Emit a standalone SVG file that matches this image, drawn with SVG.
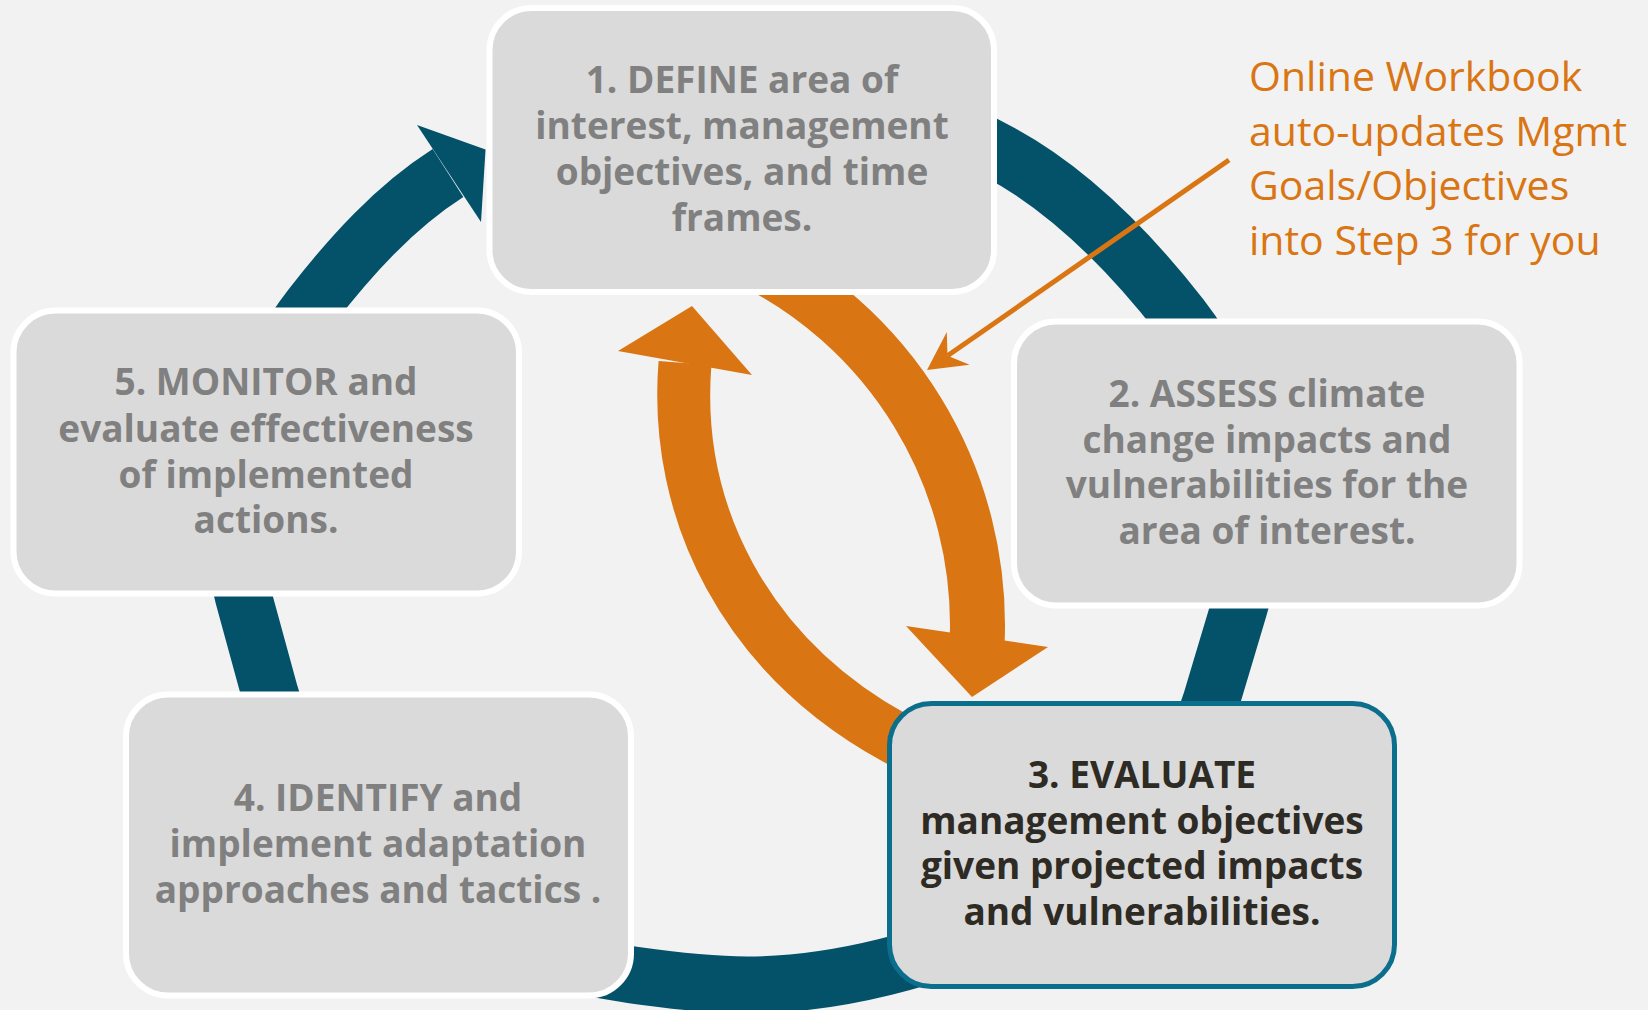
<svg xmlns="http://www.w3.org/2000/svg" width="1648" height="1010" viewBox="0 0 1648 1010">
<style>
.box{fill:#DADADA;stroke:#FFFFFF;stroke-width:6}
.box3{fill:#DADADA;stroke:#0B6E8C;stroke-width:5}
.lbl{font-family:"Open Sans","Liberation Sans",sans-serif;font-weight:700;font-size:37px;fill:#808080;text-anchor:middle}
.dark{fill:#2E2A24}
.note{font-family:"Open Sans","Liberation Sans",sans-serif;font-weight:400;font-size:41px;fill:#D97512}
.ring{fill:none;stroke:#04516A;stroke-width:57}
.oarc{fill:none;stroke:#D97512}
</style>
<rect x="0" y="0" width="1648" height="1010" fill="#F2F2F2"/>
<g id="connectors">
  <path class="ring" d="M945 123.5 L998 151.5 C1070.5 189.9 1130.6 252.4 1181 317 C1242.5 395.8 1268 512.3 1239 608 C1230.3 636.7 1220.2 671.3 1211.5 700 C1168 843.6 1030.5 931 885 967 C840.4 978 793 985 747 985 C709 985 670.6 980.3 633 975 C464.7 951.2 314.4 855.9 269.5 692 C261.1 661.2 251.9 627.8 243.5 597 C217.1 500.6 249.8 386 311 307 C350.2 256.4 394.1 207.4 448 173"/>
  <polygon points="417,125 485.5,149.5 481,222" fill="#04516A"/>
  <path class="oarc" stroke-width="55" d="M742.2 255.7 A407.5 407.5 0 0 1 977.2 640.6"/>
  <polygon points="906,626 1048,647 972,697" fill="#D97512"/>
  <path class="oarc" stroke-width="53" d="M930 757 L895 738 C746 656 673 512.6 685 363"/>
  <polygon points="618,351 752,375 692,306" fill="#D97512"/>
  <line x1="1229" y1="160" x2="947.5" y2="355.7" stroke="#D97512" stroke-width="5"/>
  <polygon points="927,370 946.8,331.9 947.5,355.7 969.6,364.7" fill="#D97512"/>
</g>
<g id="node1">
  <rect class="box" x="489.5" y="8" width="504.5" height="284" rx="42"/>
  <text class="lbl" x="742" y="93">1. DEFINE area of</text>
  <text class="lbl" x="742" y="139">interest, management</text>
  <text class="lbl" x="742" y="185">objectives, and time</text>
  <text class="lbl" x="742" y="231">frames.</text>
</g>
<g id="node2">
  <rect class="box" x="1014" y="321.5" width="505.5" height="284" rx="42"/>
  <text class="lbl" x="1267" y="407">2. ASSESS climate</text>
  <text class="lbl" x="1267" y="453">change impacts and</text>
  <text class="lbl" x="1267" y="498">vulnerabilities for the</text>
  <text class="lbl" x="1267" y="544">area of interest.</text>
</g>
<g id="node3">
  <rect class="box3" x="889.5" y="703.5" width="505" height="283" rx="42"/>
  <text class="lbl dark" x="1142" y="788">3. EVALUATE</text>
  <text class="lbl dark" x="1142" y="834">management objectives</text>
  <text class="lbl dark" x="1142" y="879">given projected impacts</text>
  <text class="lbl dark" x="1142" y="925">and vulnerabilities.</text>
</g>
<g id="node4">
  <rect class="box" x="126" y="694.5" width="505" height="301" rx="42"/>
  <text class="lbl" x="378" y="811">4. IDENTIFY and</text>
  <text class="lbl" x="378" y="857">implement adaptation</text>
  <text class="lbl" x="378" y="903">approaches and tactics .</text>
</g>
<g id="node5">
  <rect class="box" x="13.5" y="310.5" width="505.5" height="283" rx="42"/>
  <text class="lbl" x="266" y="395">5. MONITOR and</text>
  <text class="lbl" x="266" y="442">evaluate effectiveness</text>
  <text class="lbl" x="266" y="488">of implemented</text>
  <text class="lbl" x="266" y="533">actions.</text>
</g>
<g id="note">
  <text class="note" x="1249" y="91">Online Workbook</text>
  <text class="note" x="1249" y="146">auto-updates Mgmt</text>
  <text class="note" x="1249" y="200">Goals/Objectives</text>
  <text class="note" x="1249" y="255">into Step 3 for you</text>
</g>
</svg>
